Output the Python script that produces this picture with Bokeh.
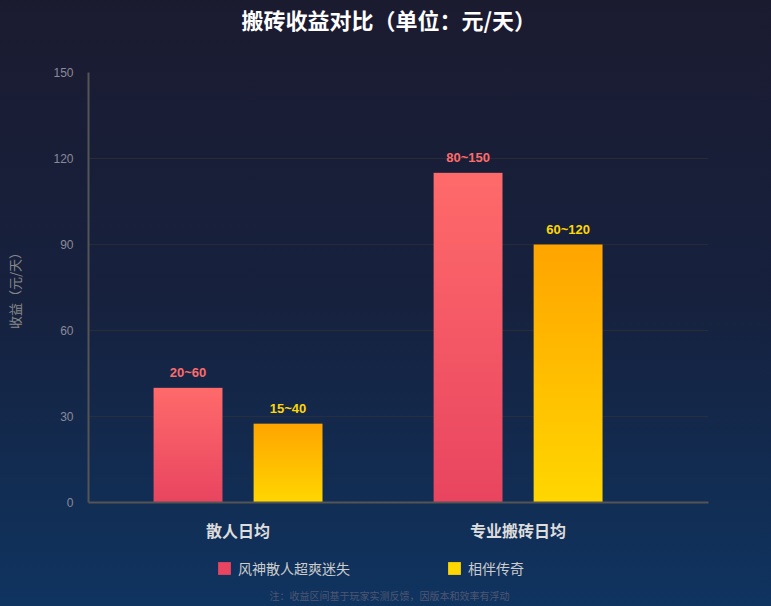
import numpy as np
from bokeh.plotting import figure
from bokeh.layouts import column
from bokeh.models import (FixedTicker, Legend, LegendItem, ColumnDataSource, Title, Label,
                          GlobalInlineStyleSheet)
from bokeh.core.properties import value
from bokeh.embed import file_html
from bokeh.resources import INLINE

# ---- data ----
categories = ["散人日均", "专业搬砖日均"]
series_names = ["风神散人超爽迷失", "相伴传奇"]
fengshen_values = [40, 115]          # bar heights (mid of range)
xiangban_values = [27.5, 90]
fengshen_labels = ["20~60", "80~150"]
xiangban_labels = ["15~40", "60~120"]
y_ticks = [0, 30, 60, 90, 120, 150]

title_text = "搬砖收益对比（单位：元/天）"
y_title = "收益（元/天）"
note_text = "注：收益区间基于玩家实测反馈，因版本和效率有浮动"

# ---- styles ----
CJK = "Noto Sans CJK SC"
NUM = "Liberation Sans"
red_top, red_bot = (255, 107, 107), (233, 69, 96)
yel_top, yel_bot = (255, 165, 0), (255, 215, 0)
red_legend, yel_legend = "#e94560", "#ffd700"
bar_w = 0.246
offset = 0.1786

W = 771
H_MAIN, H_BOT = 548, 58
LEFT, RIGHT = 88, 63

p = figure(width=W, height=H_MAIN, output_backend="svg", toolbar_location=None,
           x_range=(-0.534, 1.680), y_range=(0, 150),
           min_border_left=LEFT, min_border_right=RIGHT, min_border_top=72, min_border_bottom=46)
p.background_fill_alpha = 0
p.border_fill_alpha = 0
p.outline_line_color = None
p.title.text = ""


def grad(top, bot, n=256):
    t = np.linspace(0, 1, n)[:, None]
    r = (bot[0] + (top[0] - bot[0]) * t).astype(np.uint32)
    g = (bot[1] + (top[1] - bot[1]) * t).astype(np.uint32)
    b = (bot[2] + (top[2] - bot[2]) * t).astype(np.uint32)
    img = (255 << 24) | (b << 16) | (g << 8) | r
    return img.astype(np.uint32).reshape(n, 1)


idx = np.arange(len(categories))
x1 = idx - offset
x2 = idx + offset

imgs, xs, ys, dws, dhs = [], [], [], [], []
for i in range(len(categories)):
    imgs.append(grad(red_top, red_bot)); xs.append(x1[i] - bar_w / 2); ys.append(0)
    dws.append(bar_w); dhs.append(fengshen_values[i])
    imgs.append(grad(yel_top, yel_bot)); xs.append(x2[i] - bar_w / 2); ys.append(0)
    dws.append(bar_w); dhs.append(xiangban_values[i])
p.image_rgba(image=imgs, x=xs, y=ys, dw=dws, dh=dhs)

# value labels
p.text(x=list(x1), y=fengshen_values, text=fengshen_labels, text_color="#ff6b6b",
       text_font=value(NUM), text_font_style="bold", text_font_size="13px",
       text_align="center", text_baseline="middle", y_offset=-15)
p.text(x=list(x2), y=xiangban_values, text=xiangban_labels, text_color="#ffd700",
       text_font=value(NUM), text_font_style="bold", text_font_size="13px",
       text_align="center", text_baseline="middle", y_offset=-15)

# axes
p.xaxis.ticker = FixedTicker(ticks=list(idx))
p.xaxis.major_label_overrides = {int(i): c for i, c in zip(idx, categories)}
p.xaxis.major_label_text_font = CJK
p.xaxis.major_label_text_font_style = "bold"
p.xaxis.major_label_text_font_size = "16px"
p.xaxis.major_label_text_color = "#dddddd"
p.xaxis.major_label_standoff = 15
p.xaxis.major_tick_out = 0
p.xaxis.major_tick_in = 0
p.xaxis.axis_line_color = "#555555"
p.xaxis.axis_line_width = 2
p.xaxis.major_tick_line_color = None
p.xaxis.minor_tick_line_color = None

p.yaxis.ticker = FixedTicker(ticks=y_ticks)
p.yaxis.major_label_text_font = NUM
p.yaxis.major_label_text_font_size = "12px"
p.yaxis.major_label_text_color = "#8a8a99"
p.yaxis.major_label_standoff = 15
p.yaxis.major_tick_out = 0
p.yaxis.major_tick_in = 0
p.yaxis.axis_line_color = "#555555"
p.yaxis.axis_line_width = 2
p.yaxis.major_tick_line_color = None
p.yaxis.minor_tick_line_color = None
p.yaxis.axis_label = y_title
p.yaxis.axis_label_text_font = CJK
p.yaxis.axis_label_text_font_style = "normal"
p.yaxis.axis_label_text_font_size = "13px"
p.yaxis.axis_label_text_color = "#888888"
p.yaxis.axis_label_standoff = 26

p.xgrid.grid_line_color = None
p.ygrid.ticker = FixedTicker(ticks=y_ticks[1:-1])
p.ygrid.grid_line_color = "#333333"
p.ygrid.grid_line_alpha = 0.6

# title: spacer (next to frame) then main title (outer)
p.add_layout(Title(text=" ", text_font_size="10px", standoff=23), "above")
p.add_layout(Title(text=title_text, text_font=CJK, text_font_style="bold",
                   text_font_size="22px", text_color="#ffffff", align="left", offset=153,
                   vertical_align="top", standoff=0), "above")

# ---- bottom strip: legend + footnote ----
pb = figure(width=W, height=H_BOT, output_backend="svg", toolbar_location=None,
            x_range=(LEFT, W - RIGHT), y_range=(H_BOT, 0), x_axis_type=None, y_axis_type=None,
            min_border_left=LEFT, min_border_right=RIGHT, min_border_top=0, min_border_bottom=0)
pb.background_fill_alpha = 0
pb.border_fill_alpha = 0
pb.outline_line_color = None
pb.grid.grid_line_color = None
pb.title.text = ""

# zero-size placeholder quads (outside the view) that only supply legend swatches
src_swatch = ColumnDataSource(data=dict(l=[0], r=[0], t=[0], b=[0]))
r1 = pb.quad(left="l", right="r", top="t", bottom="b", source=src_swatch,
             fill_color=red_legend, line_color=None, border_radius=3)
r2 = pb.quad(left="l", right="r", top="t", bottom="b", source=src_swatch,
             fill_color=yel_legend, line_color=None, border_radius=3)
legend = Legend(items=[LegendItem(label=series_names[0], renderers=[r1]),
                       LegendItem(label=series_names[1], renderers=[r2])],
                orientation="horizontal", location=(216 - LEFT, 28),
                glyph_width=16, glyph_height=16, label_standoff=6, spacing=96,
                padding=0, margin=0, border_line_color=None, background_fill_alpha=0,
                label_text_font=CJK, label_text_font_size="14px",
                label_text_color="#cccccc", label_height=14)
pb.add_layout(legend, "center")
pb.add_layout(Label(x=389, y=47, text=note_text, text_font=CJK, text_font_size="10px",
                    text_color="#4f5670", text_align="center", text_baseline="middle"))

layout = column(p, pb, spacing=0)
layout.stylesheets = [GlobalInlineStyleSheet(
    css="html, body { margin: 0; padding: 0; background: #0f3460; overflow: hidden; }")]
layout.styles = {"background": "linear-gradient(180deg, #1b1b30 0%, #16213e 50%, #0f3460 100%)"}

open("out.html", "w").write(file_html(layout, INLINE))
